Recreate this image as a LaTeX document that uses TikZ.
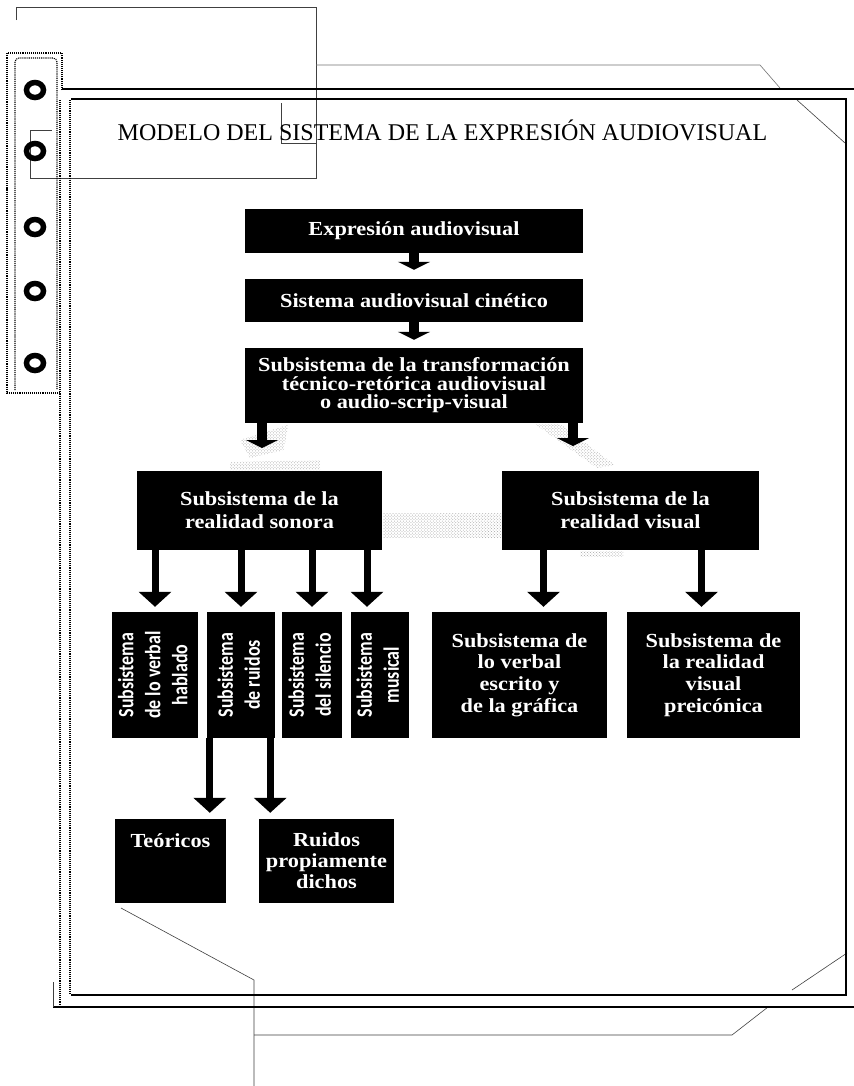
\documentclass[tikz,border=0pt]{standalone}
\usepackage{fontspec}
\setmainfont{Liberation Serif}
\newfontfamily\boxserif[FakeStretch=1.12]{Liberation Serif}
\newfontfamily\condsans[FakeStretch=0.82]{Carlito}
\usetikzlibrary{arrows.meta,patterns}

\newcommand{\boxfont}{\boxserif\bfseries\fontsize{20}{21}\selectfont}
\newcommand{\vertfont}{\condsans\bfseries\fontsize{22}{27}\selectfont}
\newcommand{\vtext}[1]{\rotatebox{90}{\begin{tabular}{@{}c@{}}#1\end{tabular}}}

\tikzset{
  blackbox/.style={fill=black, text=white, inner sep=0pt, align=center, font=\boxfont},
  vertbox/.style={fill=black, text=white, inner sep=0pt, minimum height=126bp, font=\vertfont},
  smallarr/.style={line width=10bp, -{Triangle[width=32bp 0, length=8bp 0]}},
  bigarr/.style={line width=7bp, -{Triangle[width=32bp 0, length=15bp 0]}},
  frameline/.style={line width=2.4bp},
  thinline/.style={line width=0.6bp, black!75},
  dotline/.style={line width=1.1bp, densely dotted},
  ring/.style={line width=5.5bp},
  stipple/.style={pattern=crosshatch dots, pattern color=black!35},
}

\begin{document}
\begin{tikzpicture}[x=1bp,y=-1bp]
\useasboundingbox (0,0) rectangle (854,1086);
\fill[white] (0,0) rectangle (854,1086);

% scan shadows
\fill[stipple] (240,440) -- (288,425) -- (284,450) -- (250,458) -- cycle;
\fill[stipple] (230,462) -- (320,460) -- (320,470) -- (230,470) -- cycle;
\fill[stipple] (535,424) -- (560,424) -- (615,465) -- (597,468) -- cycle;
\fill[stipple] (383,513) rectangle (502,537);
\fill[stipple] (580,551) rectangle (623,556);

% paper outlines
\draw[thinline] (16,20) -- (16,7) -- (316,7) -- (316,178) -- (30,178) -- (30,130) -- (52,130);
\draw[thinline] (281,103) -- (281,143) -- (316,143);
\draw[thinline, black!55] (316,65) -- (760,65) -- (780,88);
\draw[thinline] (797,100) -- (845,143);
\draw[thinline] (121,908) -- (254,980) -- (254,1086);
\draw[thinline] (254,1035) -- (732,1035) -- (768,1007);
\draw[thinline] (792,990) -- (847,953);

% binder strip
\draw[dotline] (62,90) -- (62,53) -- (7,53) -- (7,393) -- (60,393);
\draw[dotline, rounded corners=4bp] (15,390) -- (15,58) -- (57,58) -- (57,390);
\foreach \cy in {90,151,227,291,363}
  \draw[ring] (35,\cy) ellipse [x radius=8.5, y radius=7.5];

% frame
\draw[frameline] (62,89) -- (854,89);
\draw[frameline] (71,99) -- (846,99) -- (846,995) -- (71,995);
\draw[dotline] (60,100) -- (60,1007);
\draw[dotline] (70,100) -- (70,995);
\draw[frameline] (53,1007) -- (854,1007);
\draw[thinline] (53,982) -- (53,1007);

% title
\node[font=\fontsize{24.1}{28}\selectfont, anchor=base] (title) at (442.5,140) {MODELO DEL SISTEMA DE LA EXPRESIÓN AUDIOVISUAL};

% top chain
\node[blackbox, minimum width=338bp, minimum height=44bp] (expr) at (414,231) {Expresión audiovisual};
\node[blackbox, minimum width=338bp, minimum height=43bp] (sist) at (414,300.5) {Sistema audiovisual cinético};
\node[blackbox, minimum width=338bp, minimum height=75bp, font=\boxserif\bfseries\fontsize{20}{18.5}\selectfont] (trans) at (414,385.5) {Subsistema de la transformación\\técnico-retórica audiovisual\\o audio-scrip-visual};

% second level
\node[blackbox, minimum width=245bp, minimum height=79bp, font=\boxserif\bfseries\fontsize{20}{23}\selectfont] (sonora) at (259.5,510.5) {Subsistema de la\\realidad sonora};
\node[blackbox, minimum width=257bp, minimum height=79bp, font=\boxserif\bfseries\fontsize{20}{23}\selectfont] (visual) at (630.5,510.5) {Subsistema de la\\realidad visual};

% sound subsystems
\node[vertbox, minimum width=86bp] (hablado) at (155,675) {\vtext{Subsistema\\de lo verbal\\hablado}};
\node[vertbox, minimum width=68bp] (ruidos) at (241,675) {\vtext{Subsistema\\de ruidos}};
\node[vertbox, minimum width=60bp] (silencio) at (312,675) {\vtext{Subsistema\\del silencio}};
\node[vertbox, minimum width=58bp] (musical) at (380,675) {\vtext{Subsistema\\musical}};

% visual subsystems
\node[blackbox, minimum width=175bp, minimum height=126bp, font=\boxserif\bfseries\fontsize{20}{21.7}\selectfont] (escrito) at (519.5,675) {Subsistema de\\lo verbal\\escrito y\\de la gráfica};
\node[blackbox, minimum width=173bp, minimum height=126bp, font=\boxserif\bfseries\fontsize{20}{21.7}\selectfont] (preic) at (713.5,675) {Subsistema de\\la realidad\\visual\\preicónica};

% noise types
\node[blackbox, minimum width=111bp, minimum height=84bp, text height=14bp, text depth=42bp] (teoricos) at (170.5,861) {Teóricos};
\node[blackbox, minimum width=135bp, minimum height=84bp] (ruidosp) at (326.5,861) {Ruidos\\propiamente\\dichos};

% arrows
\draw[smallarr] (expr.south) -- ([yshift=9bp]sist.north);
\draw[smallarr] (sist.south) -- ([yshift=8bp]trans.north);
\coordinate (tl) at (262,448);
\coordinate (tr) at (573,446);
\draw[smallarr] (trans.south -| tl) -- (tl);
\draw[smallarr] (trans.south -| tr) -- (tr);

\foreach \n in {hablado,ruidos,silencio}
  \draw[bigarr] (sonora.south -| \n.north) -- ([yshift=5bp]\n.north);
\coordinate (mu) at ([xshift=-13bp]musical.north);
\draw[bigarr] (sonora.south -| mu) -- ([yshift=5bp]mu);

\coordinate (ea) at ([xshift=24bp]escrito.north);
\coordinate (pa) at ([xshift=-12bp]preic.north);
\draw[bigarr] (visual.south -| ea) -- ([yshift=5bp]ea);
\draw[bigarr] (visual.south -| pa) -- ([yshift=5bp]pa);

\coordinate (ra) at ([xshift=3bp]ruidos.south west);
\coordinate (rb) at ([xshift=-5bp]ruidos.south east);
\coordinate (ta) at ([yshift=6bp]teoricos.north);
\coordinate (tb) at ([yshift=6bp]ruidosp.north);
\draw[bigarr] (ra) -- (ra |- ta);
\draw[bigarr] (rb) -- (rb |- tb);
\end{tikzpicture}
\end{document}
